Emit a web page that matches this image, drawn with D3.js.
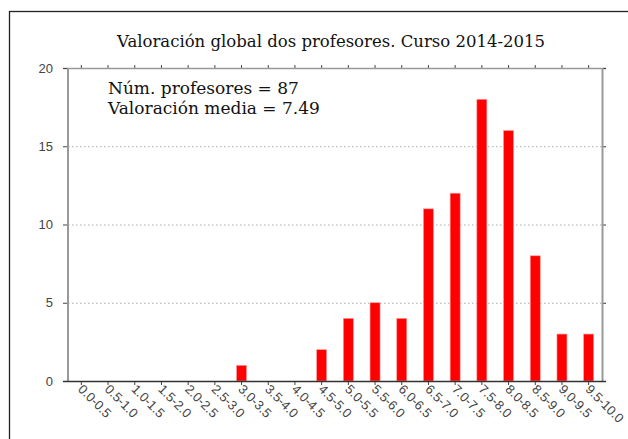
<!DOCTYPE html>
<html><head><meta charset="utf-8">
<script src="https://cdn.jsdelivr.net/npm/d3@7"></script>
<style>body{margin:0;background:#fff}svg{display:block}</style>
</head><body>
<script>
const categories = ["0.0-0.5","0.5-1.0","1.0-1.5","1.5-2.0","2.0-2.5","2.5-3.0","3.0-3.5","3.5-4.0","4.0-4.5","4.5-5.0","5.0-5.5","5.5-6.0","6.0-6.5","6.5-7.0","7.0-7.5","7.5-8.0","8.0-8.5","8.5-9.0","9.0-9.5","9.5-10.0"];
const counts = [0,0,0,0,0,0,1,0,0,2,4,5,4,11,12,18,16,8,3,3];
const yTicks = [0,5,10,15,20];
const title = "Valoración global dos profesores. Curso 2014-2015";
const notes = ["Núm. profesores = 87","Valoración media = 7.49"];

const W=628,H=439;
const svg=d3.select("body").append("svg").attr("width",W).attr("height",H);
const L=68,R=602,T=68,B=381;
svg.append("rect").attr("x",9.5).attr("y",11.5).attr("width",700).attr("height",600)
  .attr("fill","none").attr("stroke","#222").attr("stroke-width",1.3);

const x=d3.scaleBand().domain(categories).range([L,R]).paddingInner(0.625).paddingOuter(0.3125);
const y=d3.scaleLinear().domain([0,20]).range([B,T]);

// grid
svg.append("g").selectAll("line").data(yTicks.filter(d=>d>0&&d<20)).join("line")
  .attr("x1",L).attr("x2",R).attr("y1",d=>y(d)+0.5).attr("y2",d=>y(d)+0.5)
  .attr("stroke","#aaa").attr("stroke-dasharray","1.5,2.5").attr("stroke-width",1);

// bars
svg.append("g").selectAll("rect").data(counts).join("rect")
  .attr("x",(d,i)=>x(categories[i])).attr("width",x.bandwidth())
  .attr("y",d=>y(d)).attr("height",d=>B-y(d))
  .attr("fill","#ff0000").attr("stroke","#ff9a9a").attr("stroke-width",0.6);

const font="'Liberation Sans', Arial, sans-serif";
// top axis
const gt=svg.append("g").attr("transform",`translate(0,${T})`)
  .call(d3.axisTop(x).tickSize(3).tickFormat(""));
gt.select(".domain").remove();
gt.selectAll(".tick line").attr("stroke","#444");
svg.append("line").attr("x1",63).attr("x2",606).attr("y1",T+0.5).attr("y2",T+0.5).attr("stroke","#999").attr("stroke-width",1.5);
// right axis
const gr=svg.append("g").attr("transform",`translate(${R},0)`)
  .call(d3.axisRight(y).tickValues(yTicks).tickSize(4).tickFormat(""));
gr.select(".domain").remove();
gr.selectAll(".tick line").attr("stroke","#333");
svg.append("line").attr("x1",R+0.5).attr("x2",R+0.5).attr("y1",T).attr("y2",B).attr("stroke","#999").attr("stroke-width",2);
// left axis
const gl=svg.append("g").attr("transform",`translate(${L},0)`)
  .call(d3.axisLeft(y).tickValues(yTicks).tickSize(5).tickPadding(10));
gl.select(".domain").remove();
gl.selectAll(".tick line").attr("stroke","#444");
gl.selectAll("text").attr("font-family",font).attr("font-size",13).attr("fill","#444");
svg.append("line").attr("x1",L).attr("x2",L).attr("y1",T).attr("y2",B).attr("stroke","#999").attr("stroke-width",2);
// bottom axis
const gb=svg.append("g").attr("transform",`translate(0,${B})`)
  .call(d3.axisBottom(x).tickSize(4));
gb.select(".domain").remove();
gb.selectAll(".tick line").attr("stroke","#444");
gb.selectAll("text").attr("font-family",font).attr("font-size",13).attr("fill","#444")
  .attr("text-anchor","start").attr("dy",0).attr("y",0)
  .attr("transform","translate(-4,9) rotate(45)");
svg.append("line").attr("x1",63).attr("x2",606).attr("y1",B+0.5).attr("y2",B+0.5).attr("stroke","#333").attr("stroke-width",1.3);

const serif="'DejaVu Serif', serif";
svg.append("text").attr("x",331).attr("y",47).attr("text-anchor","middle")
  .attr("font-family",serif).attr("font-size",16.5).attr("fill","#111").text(title);
svg.append("g").selectAll("text").data(notes).join("text")
  .attr("x",108).attr("y",(d,i)=>94+i*20).attr("font-family",serif).attr("font-size",17).attr("fill","#111").text(d=>d);
</script>
</body></html>
